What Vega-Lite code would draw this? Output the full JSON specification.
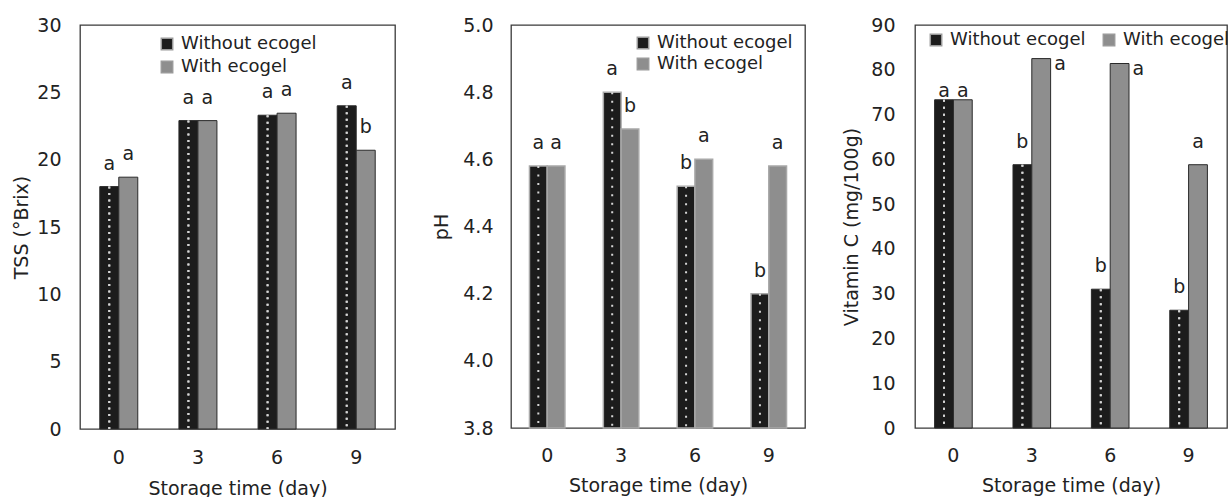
{
  "$schema": "https://vega.github.io/schema/vega-lite/v6.json",
  "padding": {"left": 12, "top": 15, "right": 0, "bottom": 0},
  "background": "white",
  "resolve": {"scale": {"color": "independent", "x": "independent", "y": "independent", "xOffset": "independent"}, "legend": {"color": "independent"}},
  "config": {
    "font": "DejaVu Sans",
    "view": {"stroke": "#3a3a3a", "strokeWidth": 1.3},
    "axis": {"labelFontSize": 19, "titleFontSize": 19, "titleFontWeight": "normal", "labelColor": "#222222", "titleColor": "#222222", "ticks": false, "grid": false, "domain": false, "labelFont": "DejaVu Sans", "titleFont": "DejaVu Sans"},
    "legend": {"labelFontSize": 18, "labelFont": "DejaVu Sans", "labelColor": "#222222", "symbolType": "square", "symbolSize": 130, "symbolStrokeColor": "#9a9a9a", "symbolStrokeWidth": 1.5, "labelOffset": 5, "rowPadding": 5, "title": null},
    "concat": {"spacing": 36}
  },
  "datasets": {
    "tss": [
      {"day": 0, "group": "Without ecogel", "value": 18.0, "letter": "a"},
      {"day": 0, "group": "With ecogel", "value": 18.7, "letter": "a"},
      {"day": 3, "group": "Without ecogel", "value": 22.9, "letter": "a"},
      {"day": 3, "group": "With ecogel", "value": 22.9, "letter": "a"},
      {"day": 6, "group": "Without ecogel", "value": 23.3, "letter": "a"},
      {"day": 6, "group": "With ecogel", "value": 23.45, "letter": "a"},
      {"day": 9, "group": "Without ecogel", "value": 24.0, "letter": "a"},
      {"day": 9, "group": "With ecogel", "value": 20.7, "letter": "b"}
    ],
    "ph": [
      {"day": 0, "group": "Without ecogel", "value": 4.58, "letter": "a"},
      {"day": 0, "group": "With ecogel", "value": 4.58, "letter": "a"},
      {"day": 3, "group": "Without ecogel", "value": 4.80, "letter": "a"},
      {"day": 3, "group": "With ecogel", "value": 4.69, "letter": "b"},
      {"day": 6, "group": "Without ecogel", "value": 4.52, "letter": "b"},
      {"day": 6, "group": "With ecogel", "value": 4.60, "letter": "a"},
      {"day": 9, "group": "Without ecogel", "value": 4.20, "letter": "b"},
      {"day": 9, "group": "With ecogel", "value": 4.58, "letter": "a"}
    ],
    "vc": [
      {"day": 0, "group": "Without ecogel", "value": 73.3, "letter": "a"},
      {"day": 0, "group": "With ecogel", "value": 73.3, "letter": "a"},
      {"day": 3, "group": "Without ecogel", "value": 58.8, "letter": "b"},
      {"day": 3, "group": "With ecogel", "value": 82.5, "letter": "a"},
      {"day": 6, "group": "Without ecogel", "value": 31.0, "letter": "b"},
      {"day": 6, "group": "With ecogel", "value": 81.4, "letter": "a"},
      {"day": 9, "group": "Without ecogel", "value": 26.3, "letter": "b"},
      {"day": 9, "group": "With ecogel", "value": 58.8, "letter": "a"}
    ]
  },
  "hconcat": [
    {
      "width": 315,
      "height": 404,
      "data": {"name": "tss"},
      "encoding": {
        "x": {"field": "day", "type": "nominal", "sort": [0, 3, 6, 9], "scale": {"paddingInner": 0.52, "paddingOuter": 0.25}, "axis": {"labelAngle": 0, "labelPadding": 19, "titlePadding": 12, "title": "Storage time (day)"}},
        "xOffset": {"field": "group", "type": "nominal", "scale": {"domain": ["Without ecogel", "With ecogel"]}},
        "y": {"field": "value", "type": "quantitative", "scale": {"domain": [0, 30], "nice": false}, "axis": {"values": [0, 5, 10, 15, 20, 25, 30], "labelPadding": 19, "titlePadding": 5, "title": "TSS (°Brix)"}}
      },
      "layer": [
        {
          "mark": {"type": "bar", "stroke": "#2a2a2a", "strokeWidth": 1},
          "encoding": {
            "color": {"field": "group", "type": "nominal", "scale": {"domain": ["Without ecogel", "With ecogel"], "range": ["#1c1c1c", "#8e8e8e"]}, "legend": {"orient": "none", "legendX": 78, "legendY": 10, "direction": "vertical"}}
          }
        },
        {
          "transform": [{"filter": "datum.group == 'Without ecogel'"}],
          "mark": {"type": "rule", "color": "#d5d5d5", "strokeWidth": 2, "strokeDash": [2, 4.5], "xOffset": -5},
          "encoding": {"y2": {"datum": 0}}
        },
        {
          "transform": [{"filter": "datum.group == 'Without ecogel'"}],
          "mark": {"type": "rule", "color": "#d5d5d5", "strokeWidth": 2, "strokeDash": [2, 4.5], "xOffset": 4},
          "encoding": {"y2": {"datum": 0}}
        },
        {
          "mark": {"type": "text", "fontSize": 19, "baseline": "alphabetic", "dy": -17, "color": "#222222"},
          "encoding": {"text": {"field": "letter"}}
        }
      ]
    },
    {
      "width": 294,
      "height": 403,
      "data": {"name": "ph"},
      "encoding": {
        "x": {"field": "day", "type": "nominal", "sort": [0, 3, 6, 9], "scale": {"paddingInner": 0.52, "paddingOuter": 0.25}, "axis": {"labelAngle": 0, "labelPadding": 18, "titlePadding": 11, "title": "Storage time (day)"}},
        "xOffset": {"field": "group", "type": "nominal", "scale": {"domain": ["Without ecogel", "With ecogel"]}},
        "y": {"field": "value", "type": "quantitative", "scale": {"domain": [3.8, 5.0], "nice": false, "zero": false}, "axis": {"values": [3.8, 4.0, 4.2, 4.4, 4.6, 4.8, 5.0], "format": ".1f", "labelPadding": 18, "titlePadding": 11, "title": "pH"}}
      },
      "layer": [
        {
          "mark": {"type": "bar", "stroke": "#a8a8a8", "strokeWidth": 1.5},
          "encoding": {
            "y2": {"datum": 3.8},
            "color": {"field": "group", "type": "nominal", "scale": {"domain": ["Without ecogel", "With ecogel"], "range": ["#1c1c1c", "#8e8e8e"]}, "legend": {"orient": "none", "legendX": 123, "legendY": 9, "direction": "vertical", "rowPadding": 3}}
          }
        },
        {
          "transform": [{"filter": "datum.group == 'Without ecogel'"}],
          "mark": {"type": "rule", "color": "#d5d5d5", "strokeWidth": 2, "strokeDash": [2, 6.5], "xOffset": 0},
          "encoding": {"y2": {"datum": 3.8}}
        },
        {
          "mark": {"type": "text", "fontSize": 19, "baseline": "alphabetic", "dy": -17, "color": "#222222"},
          "encoding": {"text": {"field": "letter"}}
        }
      ]
    },
    {
      "width": 312,
      "height": 403,
      "data": {"name": "vc"},
      "encoding": {
        "x": {"field": "day", "type": "nominal", "sort": [0, 3, 6, 9], "scale": {"paddingInner": 0.52, "paddingOuter": 0.25}, "axis": {"labelAngle": 0, "labelPadding": 18, "titlePadding": 11, "title": "Storage time (day)"}},
        "xOffset": {"field": "group", "type": "nominal", "scale": {"domain": ["Without ecogel", "With ecogel"]}},
        "y": {"field": "value", "type": "quantitative", "scale": {"domain": [0, 90], "nice": false}, "axis": {"values": [0, 10, 20, 30, 40, 50, 60, 70, 80, 90], "labelPadding": 20, "titlePadding": 9, "title": "Vitamin C (mg/100g)"}}
      },
      "layer": [
        {
          "mark": {"type": "bar", "stroke": "#2a2a2a", "strokeWidth": 1},
          "encoding": {
            "color": {"field": "group", "type": "nominal", "scale": {"domain": ["Without ecogel", "With ecogel"], "range": ["#1c1c1c", "#8e8e8e"]}, "legend": {"orient": "none", "legendX": 12, "legendY": 6, "direction": "horizontal", "columnPadding": 14}}
          }
        },
        {
          "transform": [{"filter": "datum.group == 'Without ecogel'"}],
          "mark": {"type": "rule", "color": "#d5d5d5", "strokeWidth": 2, "strokeDash": [2, 5], "xOffset": -5},
          "encoding": {"y2": {"datum": 0}}
        },
        {
          "transform": [{"filter": "datum.group == 'Without ecogel'"}],
          "mark": {"type": "rule", "color": "#d5d5d5", "strokeWidth": 2, "strokeDash": [2, 5], "xOffset": 4},
          "encoding": {"y2": {"datum": 0}}
        },
        {
          "transform": [{"filter": "!(datum.day == 0 || (datum.group == 'With ecogel' && (datum.day == 3 || datum.day == 6)))"}],
          "mark": {"type": "text", "fontSize": 19, "baseline": "alphabetic", "dy": -17, "color": "#222222"},
          "encoding": {"text": {"field": "letter"}}
        },
        {
          "transform": [{"filter": "datum.day == 0"}],
          "mark": {"type": "text", "fontSize": 19, "baseline": "alphabetic", "dy": -3, "color": "#222222"},
          "encoding": {"text": {"field": "letter"}}
        },
        {
          "transform": [{"filter": "datum.group == 'With ecogel' && (datum.day == 3 || datum.day == 6)"}],
          "mark": {"type": "text", "fontSize": 19, "baseline": "alphabetic", "align": "left", "dx": 13, "dy": 11, "color": "#222222"},
          "encoding": {"text": {"field": "letter"}}
        }
      ]
    }
  ]
}
